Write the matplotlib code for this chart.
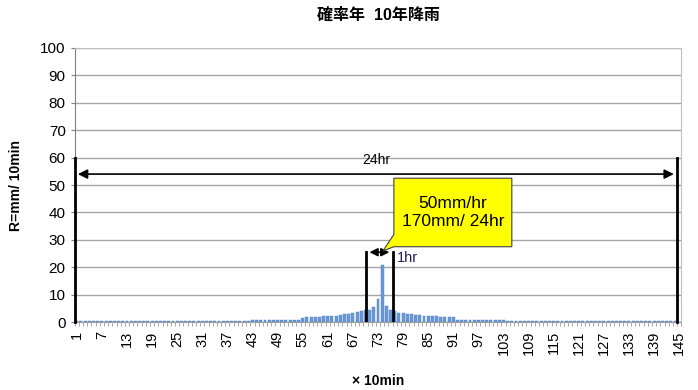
import numpy as np
import matplotlib
matplotlib.use('Agg')
import matplotlib.pyplot as plt
from matplotlib.patches import Polygon

plt.rcParams['font.family'] = ['Liberation Sans', 'Noto Sans CJK JP', 'DejaVu Sans']

# 10-minute rainfall (mm/10min), intervals 1..145
low = [0.4] * 42                                   # 1-42
mid_left = [0.9] * 12                              # 43-54
rise = [1.6, 1.7, 1.8, 1.9, 2.0, 2.1, 2.2, 2.3,
        2.4, 2.6, 2.8, 3.0, 3.3, 3.6, 4.0, 4.4]   # 55-70
peak_hour = [4.5, 5.5, 8.5, 21.0, 6.0, 4.5]        # 71-76
fall = [3.9, 3.5, 3.2, 3.0, 2.8, 2.6, 2.5, 2.4,
        2.3, 2.2, 2.1, 2.0, 1.9, 1.8, 1.7]         # 77-91
mid_right = [0.8] * 12                             # 92-103
tail = [0.4] * 41 + [0.0]                          # 104-145
rain = np.array(low + mid_left + rise + peak_hour + fall + mid_right + tail)
steps = np.arange(1, len(rain) + 1)
tick_labels = steps[::6]

title = '確率年  10年降雨'
ylabel = 'R=mm/ 10min'
xlabel = '× 10min'
note = '50mm/hr\n170mm/ 24hr'

fig = plt.figure(figsize=(6.98, 3.9), dpi=100)
ax = fig.add_axes([0.107, 0.174, 0.869, 0.703])

ax.bar(steps, rain, width=0.7, color='#6a9ad6', edgecolor='#4a7bbd', linewidth=0.3, zorder=3)

ax.set_xlim(0.5, 145.5)
ax.set_ylim(0, 100)
ax.set_yticks(np.arange(0, 101, 10))
ax.set_xticks(tick_labels)
ax.set_xticklabels([str(t) for t in tick_labels], rotation=90, fontsize=10.5)
ax.set_xticks(np.arange(0.5, 146, 1), minor=True)
ax.tick_params(axis='x', which='major', length=0, pad=6)
ax.tick_params(axis='x', which='minor', length=3, color='#9a9a9a', width=0.6)
ax.tick_params(axis='y', labelsize=11, length=3, color='#808080')
ax.grid(axis='y', color='#a6a6a6', linewidth=1.0, zorder=0)
for s in ['top', 'right']:
    ax.spines[s].set_color('#c0c0c0')
ax.spines['left'].set_color('#808080')
ax.spines['bottom'].set_color('#a0a0a0')

# 24hr span
for xv in (0.5, 144.5):
    ax.plot([xv, xv], [0, 60], color='black', lw=2, zorder=5, clip_on=False)
ax.annotate('', xy=(0.6, 54), xytext=(144.4, 54),
            arrowprops=dict(arrowstyle='<|-|>', color='black', lw=1.2, mutation_scale=14), zorder=5)
ax.text(72.5, 56.5, '24hr', ha='center', va='bottom', fontsize=10, zorder=6)

# 1hr span
for xv in (70.2, 76.5):
    ax.plot([xv, xv], [0, 25.5], color='black', lw=2, zorder=5)
ax.annotate('', xy=(70.3, 25.5), xytext=(76.4, 25.5),
            arrowprops=dict(arrowstyle='<|-|>', color='black', lw=1.2, mutation_scale=12), zorder=5)
ax.text(77.5, 23.5, '1hr', ha='left', va='center', fontsize=10.5, color='#1f1f5f', zorder=6)

# callout
box = Polygon([(76.8, 27.5), (78.5, 27.5), (105.0, 27.5), (105.0, 52.5),
               (76.8, 52.5), (76.8, 32.0), (74.2, 26.0)],
              closed=True, facecolor='#ffff00', edgecolor='#404040', lw=0.8, zorder=7)
ax.add_patch(box)
ax.text(90.9, 40, note, ha='center', va='center', fontsize=12.5, linespacing=1.25, zorder=8)

ax.set_title(title, fontsize=11.5, fontweight='bold', pad=20)
ax.set_ylabel(ylabel, fontsize=10, fontweight='bold', labelpad=12)
ax.set_xlabel(xlabel, fontsize=10, fontweight='bold', labelpad=14)

fig.savefig('out.png', dpi=100)
